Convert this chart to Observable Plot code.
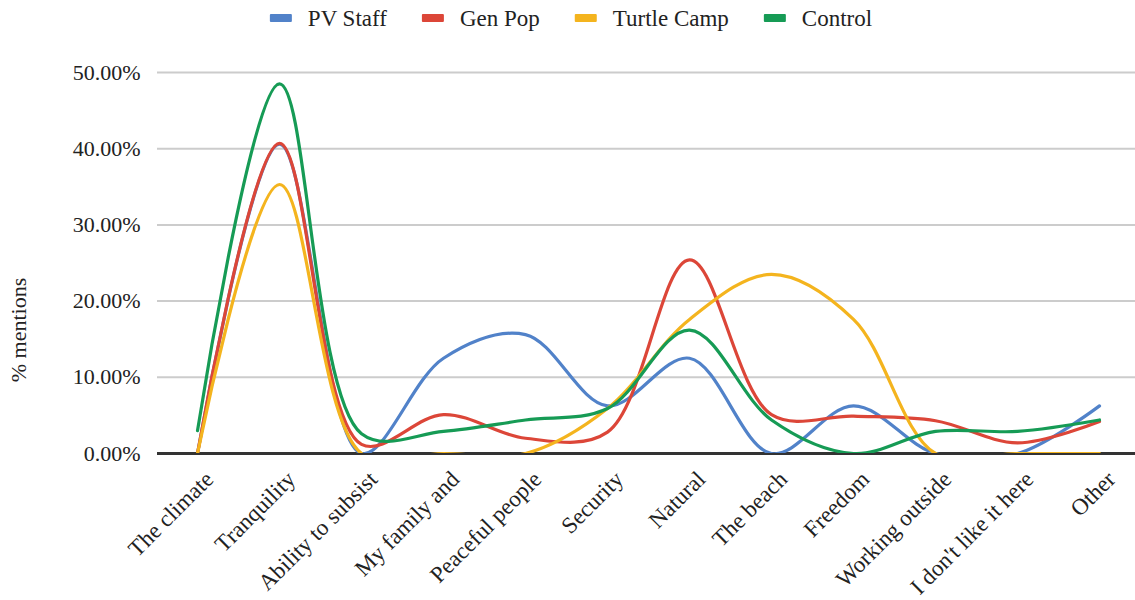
<!DOCTYPE html>
<html>
<head>
<meta charset="utf-8">
<script src="https://cdn.jsdelivr.net/npm/d3@7"></script>
<script src="https://cdn.jsdelivr.net/npm/@observablehq/plot@0.6"></script>
<style>
  html, body { margin: 0; padding: 0; background: #fff; }
  body { width: 1135px; height: 600px; overflow: hidden; }
  svg { display: block; }
</style>
</head>
<body>
<div id="chart"></div>
<script>
const categories = ["The climate","Tranquility","Ability to subsist","My family and","Peaceful people","Security","Natural","The beach","Freedom","Working outside","I don't like it here","Other"];
const seriesNames = ["PV Staff","Gen Pop","Turtle Camp","Control"];
const seriesColors = ["#5182c9","#dc4638","#f4b41e","#169b55"];
const pvStaff    = [0.0, 40.6, 0.0, 12.5, 15.6, 6.25, 12.5, 0.0, 6.25, 0.0, 0.0, 6.25];
const genPop     = [0.0, 40.7, 1.2, 5.1, 2.0, 2.8, 25.4, 5.1, 4.9, 4.3, 1.4, 4.2];
const turtleCamp = [0.0, 35.3, 0.0, 0.0, 0.0, 5.9, 17.6, 23.5, 17.6, 0.0, 0.0, 0.0];
const control    = [3.0, 48.5, 2.6, 2.9, 4.4, 5.9, 16.2, 4.4, 0.0, 2.9, 2.9, 4.4];
const yTicks = [0, 0.1, 0.2, 0.3, 0.4, 0.5];
const yLabel = "% mentions";

const FONT = "Liberation Serif, Times New Roman, serif";

const allSeries = [pvStaff, genPop, turtleCamp, control];
const data = [];
allSeries.forEach((vals, si) => {
  vals.forEach((v, i) => data.push({category: categories[i], series: seriesNames[si], value: v / 100}));
});

const fmt = d3.format(".2%");
const chart = Plot.plot({
  width: 1135,
  height: 600,
  marginTop: 72,
  marginBottom: 147,
  marginLeft: 157,
  marginRight: 0,
  style: {fontFamily: FONT, fontSize: "22px", color: "#222", background: "#fff"},
  x: {type: "point", domain: categories, range: [197, 1099], padding: 0},
  y: {domain: [0, 0.5], ticks: yTicks},
  color: {domain: seriesNames, range: seriesColors},
  marks: [
    Plot.gridY(yTicks, {stroke: "#cccccc", strokeOpacity: 1, strokeWidth: 2}),
    Plot.axisY(yTicks, {tickSize: 0, tickPadding: 17, tickFormat: fmt, fontSize: 22, label: null}),
    Plot.axisX({tickRotate: -45, tickSize: 0, tickPadding: 22, dx: 12, fontSize: 23, label: null}),
    Plot.ruleY([0], {stroke: "#333", strokeWidth: 3}),
    Plot.line(data, {x: "category", y: "value", z: "series", stroke: "series", strokeWidth: 3.2, curve: "catmull-rom", clip: true}),
    Plot.text([yLabel], {frameAnchor: "left", text: d => d, rotate: -90, textAnchor: "middle", dx: -139, dy: 67, fontSize: 22, fill: "#222"})
  ]
});
document.getElementById("chart").appendChild(chart);

// legend, drawn at the top of the same SVG (text centred on its measured width)
const swW = 22, swH = 8, swGap = 16, itemGap = 35;
const lg = d3.select(chart).append("g").attr("class", "legend").attr("font-size", 23);
const items = lg.selectAll("g").data(seriesNames).join("g");
items.append("rect").attr("width", swW).attr("height", swH).attr("y", 14).attr("rx", 1)
  .attr("fill", (d, i) => seriesColors[i]);
const texts = items.append("text").text(d => d).attr("y", 26).attr("fill", "#222");
const lens = [];
texts.each(function() { lens.push(this.getComputedTextLength()); });
texts.attr("x", (d, i) => swW + swGap + lens[i] / 2);
const widths = lens.map(l => swW + swGap + l);
const total = d3.sum(widths) + itemGap * (widths.length - 1);
let cx = 571 - total / 2;
items.attr("transform", (d, i) => { const t = `translate(${cx},0)`; cx += widths[i] + itemGap; return t; });
</script>
</body>
</html>
